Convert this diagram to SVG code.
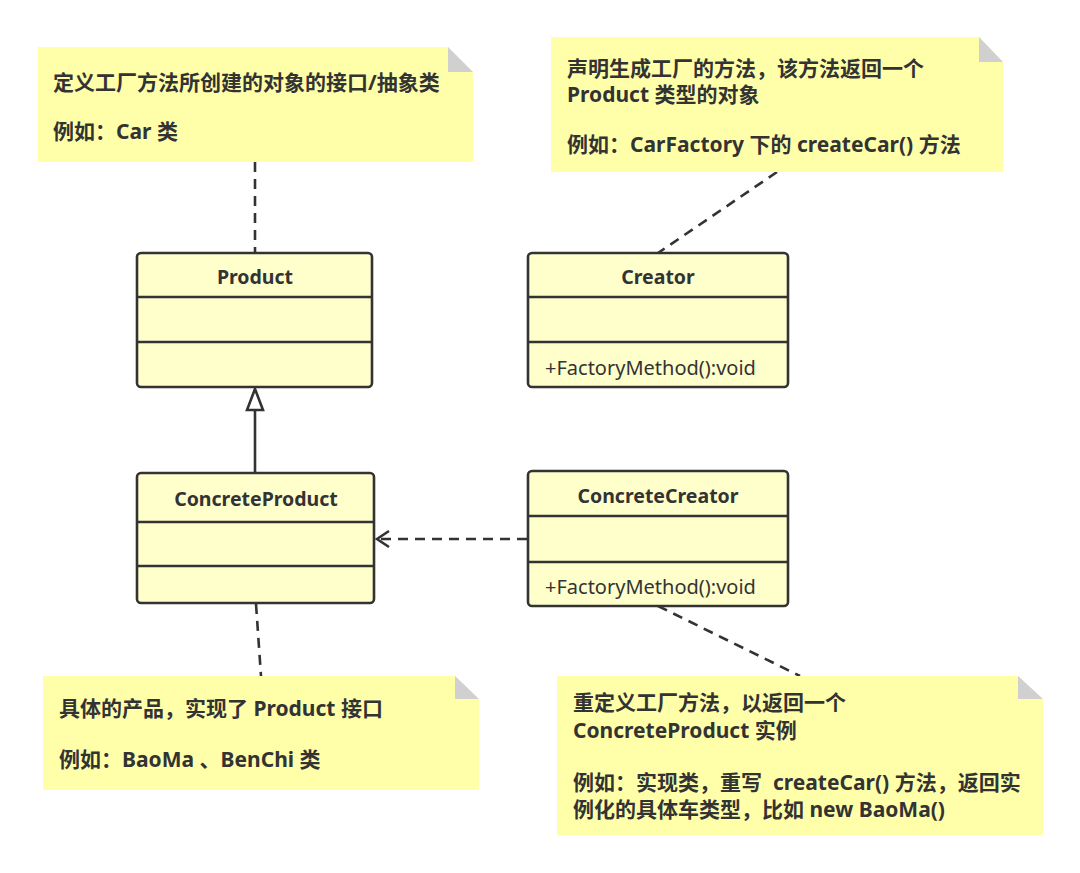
<svg xmlns="http://www.w3.org/2000/svg" width="1080" height="873" viewBox="0 0 1080 873">
<defs>
<style>
.note{fill:#FFFFAA;}
.fold{fill:#D0D0D0;}
.nt{font-family:"Noto Sans","Noto Sans CJK SC",sans-serif;font-size:21px;font-weight:bold;fill:#333333;}
.box{fill:#FFFFCC;stroke:#333333;stroke-width:2.6;}
.div{stroke:#333333;stroke-width:2.6;}
.title{font-family:"Noto Sans","Noto Sans CJK SC",sans-serif;font-size:19.5px;font-weight:bold;fill:#333333;text-anchor:middle;}
.meth{font-family:"Noto Sans","Noto Sans CJK SC",sans-serif;font-size:20px;fill:#333333;}
.dash{fill:none;stroke:#333333;stroke-width:2.6;stroke-dasharray:10 7;}
.solid{fill:none;stroke:#333333;stroke-width:2.6;}
</style>
<marker id="open" markerWidth="16" markerHeight="20" refX="13" refY="10" orient="auto" markerUnits="userSpaceOnUse">
<path d="M1,2 L13,10 L1,18" fill="none" stroke="#333333" stroke-width="2.6"/>
</marker>
</defs>
<rect width="1080" height="873" fill="#FFFFFF"/>

<g id="connectors">
<line class="dash" x1="255" y1="162" x2="255" y2="253"/>
<line class="dash" x1="777" y1="172" x2="658" y2="253"/>
<line class="dash" x1="256" y1="604" x2="261" y2="676"/>
<line class="dash" x1="658" y1="606" x2="800" y2="676"/>
<line class="solid" x1="255" y1="473" x2="255" y2="410"/>
<path d="M255,389 L263,410 L247,410 Z" fill="#FFFFFF" stroke="#333333" stroke-width="2.6" stroke-linejoin="miter"/>
<line class="dash" x1="527" y1="539" x2="377" y2="539" marker-end="url(#open)"/>
</g>

<g id="note1">
<path class="note" d="M38,47 H448 L473,72 V162 H38 Z"/>
<path class="fold" d="M448,47 V72 H473 Z"/>
<text class="nt" x="53" y="90">定义工厂方法所创建的对象的接口/抽象类</text>
<text class="nt" x="53" y="139">例如：Car 类</text>
</g>

<g id="note2">
<path class="note" d="M551,37 H979 L1003,62 V172 H551 Z"/>
<path class="fold" d="M979,37 V62 H1003 Z"/>
<text class="nt" x="567" y="76">声明生成工厂的方法，该方法返回一个</text>
<text class="nt" x="567" y="102">Product 类型的对象</text>
<text class="nt" x="567" y="152">例如：CarFactory 下的 createCar() 方法</text>
</g>

<g id="product">
<rect class="box" x="137" y="253" width="235" height="134" rx="4"/>
<line class="div" x1="137" y1="297" x2="372" y2="297"/>
<line class="div" x1="137" y1="342" x2="372" y2="342"/>
<text class="title" x="255" y="284">Product</text>
</g>

<g id="creator">
<rect class="box" x="528" y="253" width="260" height="134" rx="4"/>
<line class="div" x1="528" y1="297" x2="788" y2="297"/>
<line class="div" x1="528" y1="342" x2="788" y2="342"/>
<text class="title" x="658" y="284">Creator</text>
<text class="meth" x="545" y="375">+FactoryMethod():void</text>
</g>

<g id="concreteProduct">
<rect class="box" x="137" y="473" width="237" height="130" rx="4"/>
<line class="div" x1="137" y1="522" x2="374" y2="522"/>
<line class="div" x1="137" y1="566" x2="374" y2="566"/>
<text class="title" x="256" y="506">ConcreteProduct</text>
</g>

<g id="concreteCreator">
<rect class="box" x="528" y="471" width="260" height="135" rx="4"/>
<line class="div" x1="528" y1="516" x2="788" y2="516"/>
<line class="div" x1="528" y1="562" x2="788" y2="562"/>
<text class="title" x="658" y="503">ConcreteCreator</text>
<text class="meth" x="545" y="594">+FactoryMethod():void</text>
</g>

<g id="note3">
<path class="note" d="M43,676 H455 L479,699 V790 H43 Z"/>
<path class="fold" d="M455,676 V699 H479 Z"/>
<text class="nt" x="59" y="716">具体的产品，实现了 Product 接口</text>
<text class="nt" x="59" y="767">例如：BaoMa 、BenChi 类</text>
</g>

<g id="note4">
<path class="note" d="M557,676 H1018 L1043,699 V835 H557 Z"/>
<path class="fold" d="M1018,676 V699 H1043 Z"/>
<text class="nt" x="573" y="710">重定义工厂方法，以返回一个</text>
<text class="nt" x="573" y="738">ConcreteProduct 实例</text>
<text class="nt" x="573" y="790">例如：实现类，重写&#160; createCar() 方法，返回实</text>
<text class="nt" x="573" y="817">例化的具体车类型，比如 new BaoMa()</text>
</g>
</svg>
